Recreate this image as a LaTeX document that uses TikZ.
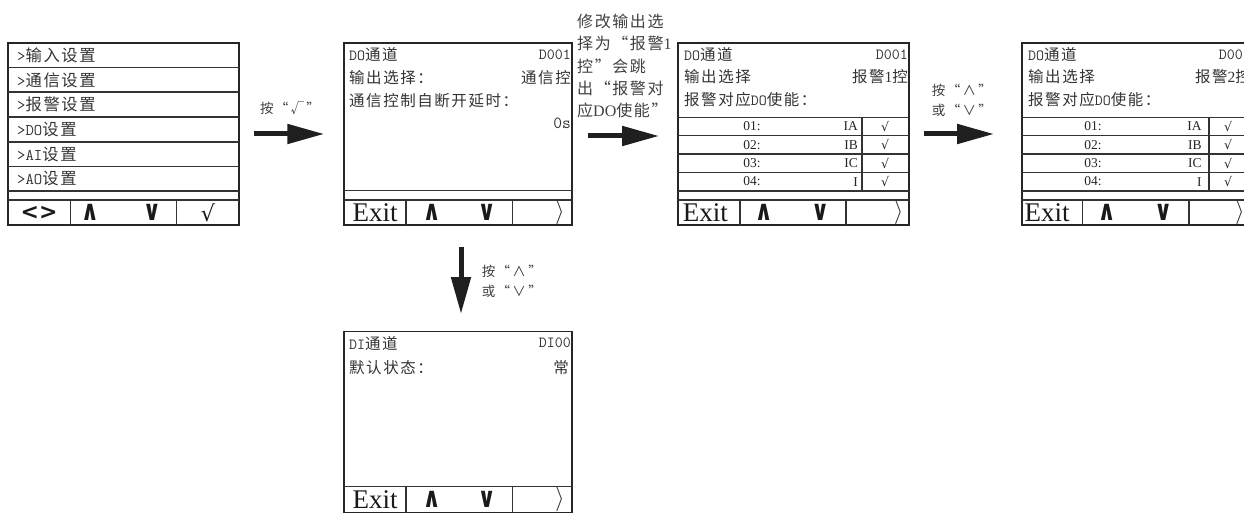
\documentclass[tikz,border=0pt]{standalone}
\usepackage{fontspec}
\setmainfont{Liberation Serif}
\newfontfamily\cjk[LetterSpace=10]{Noto Sans CJK SC}
\newfontfamily\symb{DejaVu Sans}
\usetikzlibrary{arrows.meta}

\tikzset{
  panel/.style={draw=black!85, line width=1.4pt, inner sep=0pt},
  sep/.style={draw=black!80, line width=1.1pt},
  txt/.style={inner sep=0pt, text=black!80, font=\ttfamily\fontsize{15.5}{15.5}\selectfont},
  row/.style={inner sep=0pt, text=black!80, font=\ttfamily\fontsize{16.3}{16.3}\selectfont},
  cell/.style={inner sep=0pt, text=black!85, font=\fontsize{13.5}{13.5}\selectfont},
  tick/.style={inner sep=0pt, text=black!85, font=\symb\fontsize{12.5}{12.5}\selectfont},
  btn/.style={inner sep=0pt, text=black!90, font=\symb\bfseries\fontsize{28}{28}\selectfont},
  exitbtn/.style={inner sep=0pt, text=black!90, font=\fontsize{27}{27}\selectfont},
  nextbtn/.style={inner sep=0pt, text=black!80, font=\fontsize{26}{26}\selectfont},
  bigarrow/.style={draw=black!88, line width=5pt, -{Triangle[length=37pt,width=19pt]}},
  lbl/.style={inner sep=0pt, text=black!75, align=left, font=\cjk\fontsize{13.5}{20}\selectfont},
}
\newcommand\upkey{\scalebox{0.8}[1]{∧}}
\newcommand\downkey{\scalebox{0.8}[1]{∨}}

\begin{document}
\begin{tikzpicture}[x=1pt,y=-1pt]
\useasboundingbox (0,0) rectangle (1244,513);

% menu screen
\draw (123.5,134) node(MENU)[panel, minimum width=231pt, minimum height=182pt]{};
\foreach \y in {67.5,92,117,142,166.5,191,200}
  \draw[sep] (8,\y) -- (239,\y);
\foreach \x in {70.7,176.7}
  \draw[sep] (\x,200) -- (\x,225);
\draw (17,55) node(M1)[row, anchor=west]{>{\cjk 输入设置}};
\draw (17,80) node(M2)[row, anchor=west]{>{\cjk 通信设置}};
\draw (17,104.5) node(M3)[row, anchor=west]{>{\cjk 报警设置}};
\draw (17,129.5) node(M4)[row, anchor=west]{>DO{\cjk 设置}};
\draw (17,154) node(M5)[row, anchor=west]{>AI{\cjk 设置}};
\draw (17,178.5) node(M6)[row, anchor=west]{>AO{\cjk 设置}};
\draw (39,212.5) node(MB1)[btn, font=\symb\bfseries\fontsize{22}{22}\selectfont]{<>};
\draw (90,212.5) node(MB2)[btn]{\upkey};
\draw (152,212.5) node(MB3)[btn]{\downkey};
\draw (208,213) node(MB4)[btn, font=\symb\fontsize{22}{22}\selectfont]{√};

% DO channel screen
\draw (458,134) node(DO)[panel, minimum width=228pt, minimum height=182pt]{};
\draw[sep] (344,190.7) -- (572,190.7);
\draw[sep] (344,200) -- (572,200);
\foreach \x in {406,512.7}
  \draw[sep] (\x,200) -- (\x,225);
\draw (349,55) node(DOT)[txt, anchor=west]{DO{\cjk 通道}};
\draw (571,55) node(DON)[txt, anchor=east]{D001};
\draw (349,78) node(DOS)[txt, anchor=west]{\cjk 输出选择：};
\draw (571,78) node(DOV)[txt, anchor=east]{\cjk 通信控};
\draw (349,100.5) node(DOD)[txt, anchor=west]{\cjk 通信控制自断开延时：};
\draw (571,123) node(DOZ)[txt, anchor=east, font=\ttfamily\fontsize{17}{17}\selectfont]{0s};
\draw (375,212.5) node(DOB1)[exitbtn]{Exit};
\draw (431.7,212.5) node(DOB2)[btn]{\upkey};
\draw (486.7,212.5) node(DOB3)[btn]{\downkey};
\draw (560,212.5) node(DOB4)[nextbtn]{$\rangle$};

% alarm 1 screen
\draw (793.3,134) node(AL1)[panel, minimum width=231pt, minimum height=182pt]{};
\foreach \y in {117.3,135.5,154,172.5,191,200}
  \draw[sep] (678,\y) -- (909,\y);
\draw[sep] (862,117.3) -- (862,191);
\foreach \x in {740,846}
  \draw[sep] (\x,200) -- (\x,225);
\draw (684,55) node(A1T)[txt, anchor=west]{DO{\cjk 通道}};
\draw (908,55) node(A1N)[txt, anchor=east]{D001};
\draw (684,77) node(A1S)[txt, anchor=west]{\cjk 输出选择};
\draw (908,77) node(A1V)[txt, anchor=east]{{\cjk 报警}\rmfamily 1{\cjk 控}};
\draw (684,100) node(A1E)[txt, anchor=west]{{\cjk 报警对应}DO{\cjk 使能：}};
\begin{scope}
\clip (678,117.3) rectangle (909,190);
\foreach \n/\c [count=\i] in {01/IA,02/IB,03/IC,04/I} {
  \draw (752,{108+18.4*\i}) node(A1R\i)[cell]{\n:};
  \draw (858,{108+18.4*\i}) node(A1C\i)[cell, anchor=east]{\c};
  \draw (885,{108+18.4*\i}) node(A1K\i)[tick]{√};
}
\end{scope}
\draw (705.3,212.5) node(A1B1)[exitbtn]{Exit};
\draw (763.7,212.5) node(A1B2)[btn]{\upkey};
\draw (820.3,212.5) node(A1B3)[btn]{\downkey};
\draw (898.7,212.5) node(A1B4)[nextbtn]{$\rangle$};

% alarm 2 screen
\draw (1136.8,134) node(AL2)[panel, minimum width=230pt, minimum height=182pt]{};
\foreach \y in {117.3,135.5,154,172.5,191,200}
  \draw[sep] (1021.7,\y) -- (1252,\y);
\draw[sep] (1209,117.3) -- (1209,191);
\foreach \x in {1082.7,1189}
  \draw[sep] (\x,200) -- (\x,225);
\draw (1028,55) node(A2T)[txt, anchor=west]{DO{\cjk 通道}};
\draw (1251,55) node(A2N)[txt, anchor=east]{D001};
\draw (1028,77) node(A2S)[txt, anchor=west]{\cjk 输出选择};
\draw (1251,77) node(A2V)[txt, anchor=east]{{\cjk 报警}\rmfamily 2{\cjk 控}};
\draw (1028,100) node(A2E)[txt, anchor=west]{{\cjk 报警对应}DO{\cjk 使能：}};
\begin{scope}
\clip (1021.7,117.3) rectangle (1252,190);
\foreach \n/\c [count=\i] in {01/IA,02/IB,03/IC,04/I} {
  \draw (1093,{108+18.4*\i}) node(A2R\i)[cell]{\n:};
  \draw (1201.7,{108+18.4*\i}) node(A2C\i)[cell, anchor=east]{\c};
  \draw (1228,{108+18.4*\i}) node(A2K\i)[tick]{√};
}
\end{scope}
\draw (1047,212.5) node(A2B1)[exitbtn]{Exit};
\draw (1106.7,212.5) node(A2B2)[btn]{\upkey};
\draw (1163.3,212.5) node(A2B3)[btn]{\downkey};
\draw (1240,212.5) node(A2B4)[nextbtn]{$\rangle$};

% DI channel screen
\draw (458,422.2) node(DI)[panel, minimum width=228pt, minimum height=181pt]{};
\draw[sep] (344,486.7) -- (572,486.7);
\foreach \x in {406,512.7}
  \draw[sep] (\x,486.7) -- (\x,512.7);
\draw (349,343) node(DIT)[txt, anchor=west]{DI{\cjk 通道}};
\draw (571,343) node(DIN)[txt, anchor=east]{DI00};
\draw (349,368) node(DIS)[txt, anchor=west]{\cjk 默认状态：};
\draw (561,368) node(DIV)[txt]{\cjk 常};
\draw (375,499.7) node(DIB1)[exitbtn]{Exit};
\draw (431.7,499.7) node(DIB2)[btn]{\upkey};
\draw (486.7,499.7) node(DIB3)[btn]{\downkey};
\draw (560,499.7) node(DIB4)[nextbtn]{$\rangle$};

% arrows and their notes
\draw[bigarrow] ([xshift=14pt]MENU.east) -- ([xshift=-19pt]DO.west);
\draw[bigarrow] ([xshift=15pt,yshift=-2pt]DO.east) -- ([xshift=-18pt,yshift=-2pt]AL1.west);
\draw[bigarrow] ([xshift=14pt]AL1.east) -- ([xshift=-27pt]AL2.west);
\draw[bigarrow] ([xshift=3pt,yshift=-21pt]DO.south) -- ([xshift=3pt,yshift=17pt]DI.north);

\draw (290,108) node(N1)[lbl]{按“\,√\,”};
\draw (577,66) node(N2)[lbl, anchor=west, font=\cjk\fontsize{16}{22.2}\selectfont]{修改输出选\\择为“报警{\rmfamily 1}\\控”会跳\\出“报警对\\应{\rmfamily DO}使能”};
\draw (931.7,100) node(N3)[lbl, anchor=west]{按“\,∧\,”\\或“\,∨\,”};
\draw (481.7,281.7) node(N4)[lbl, anchor=west]{按“\,∧\,”\\或“\,∨\,”};

\end{tikzpicture}
\end{document}
